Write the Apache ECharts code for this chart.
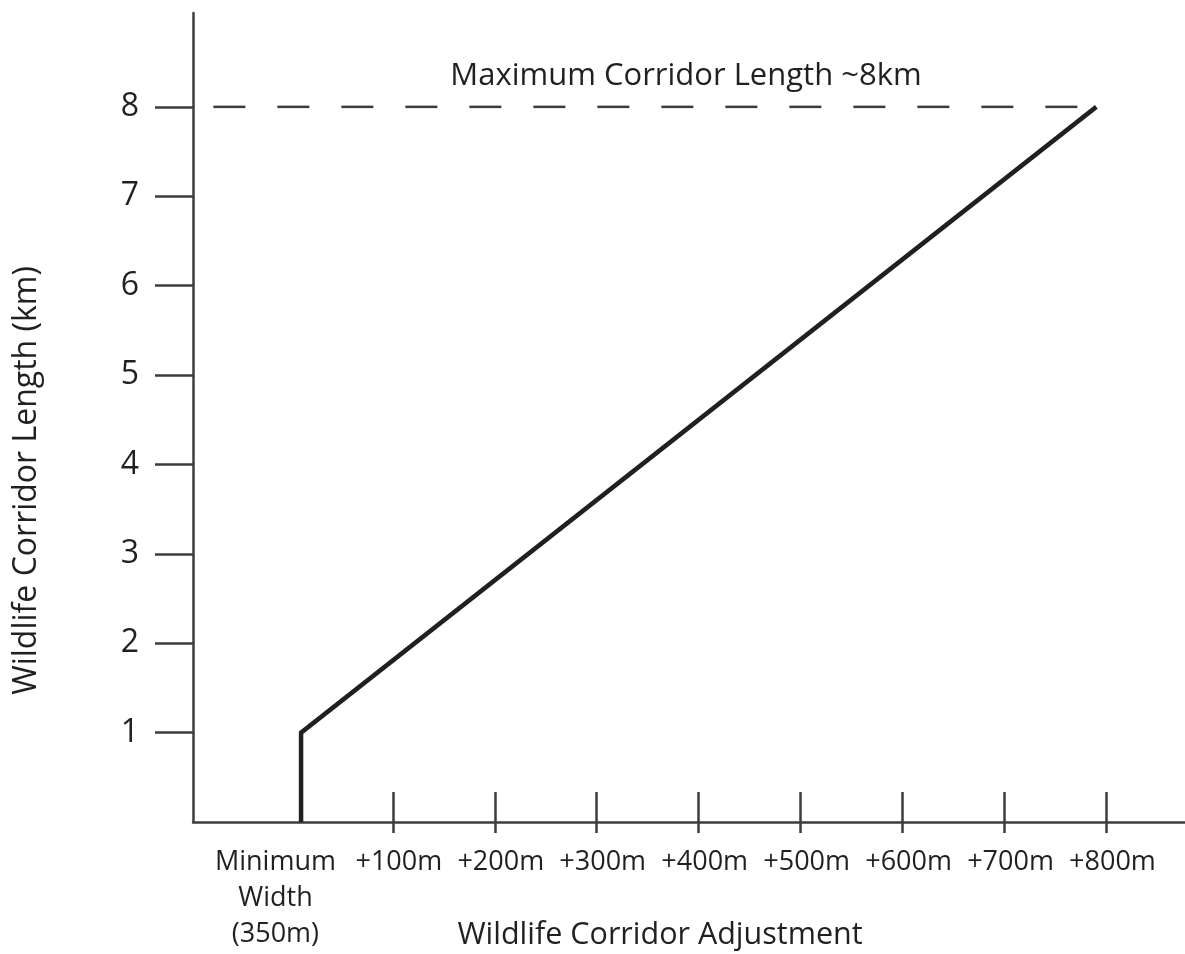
<!DOCTYPE html>
<html>
<head>
<meta charset="utf-8">
<script src="https://cdn.jsdelivr.net/npm/echarts@6/dist/echarts.min.js"></script>
<style>
html,body{margin:0;padding:0;background:#fff;}
#chart{width:1185px;height:954px;}
</style>
</head>
<body>
<div id="chart"></div>
<script>
// ---- data ----
var xTickValues = [100, 200, 300, 400, 500, 600, 700, 800];
var xTickLabels = ['+100m', '+200m', '+300m', '+400m', '+500m', '+600m', '+700m', '+800m'];
var minWidthValue = -21;
var minWidthLabel = 'Minimum\nWidth\n(350m)';
var yTickValues = [1, 2, 3, 4, 5, 6, 7, 8];
var corridorX = [10, 10, 790];
var corridorY = [0, 1, 8];
var maxLengthX = [-76, 790];
var maxLengthY = [8, 8];

var FONT = 'Open Sans';
var AX = '#3d3d3d';
var TXT = '#231f20';

var lineData = corridorX.map(function (x, i) { return [x, corridorY[i]]; });
var dashData = maxLengthX.map(function (x, i) { return [x, maxLengthY[i]]; });
var labelValues = [minWidthValue].concat(xTickValues);

var XMIN = -96, XMAX = 877;

var chart = echarts.init(document.getElementById('chart'), null, {renderer: 'canvas'});
chart.setOption({
  backgroundColor: '#ffffff',
  animation: false,
  title: {
    text: 'Maximum Corridor Length ~8km',
    left: 681, top: 56,
    textAlign: 'center',
    textStyle: {fontFamily: FONT, fontSize: 31, fontWeight: 'normal', color: TXT}
  },
  grid: {left: 193, right: 0, top: 13, bottom: 132, containLabel: false, outerBoundsMode: 'none'},
  xAxis: [{
    type: 'value', min: XMIN, max: XMAX,
    name: 'Wildlife Corridor Adjustment',
    nameLocation: 'middle', nameGap: 98, nameMoveOverlap: false,
    nameTextStyle: {fontFamily: FONT, fontSize: 30.5, color: TXT, padding: [0, 58, 0, 0]},
    axisLine: {show: true, onZero: false, lineStyle: {color: AX, width: 2.5}},
    axisTick: {show: true, inside: true, length: 30, customValues: xTickValues, lineStyle: {color: AX, width: 2.5}},
    axisLabel: {show: false},
    splitLine: {show: false}
  }, {
    type: 'value', min: XMIN, max: XMAX, position: 'bottom', offset: 0,
    axisLine: {show: false, onZero: false},
    axisTick: {show: true, inside: false, length: 11, customValues: xTickValues, lineStyle: {color: AX, width: 2.5}},
    axisLabel: {show: false},
    splitLine: {show: false}
  }, {
    type: 'value', min: XMIN, max: XMAX, position: 'bottom', offset: 0,
    axisLine: {show: false, onZero: false},
    axisTick: {show: false},
    axisLabel: {
      show: true, customValues: labelValues, margin: 22,
      showMinLabel: true, showMaxLabel: true, hideOverlap: false,
      fontFamily: FONT, fontSize: 27, color: TXT, lineHeight: 36,
      padding: [0, 0, 0, 12],
      formatter: function (v) {
        if (v === minWidthValue) return minWidthLabel;
        var i = xTickValues.indexOf(v);
        return i >= 0 ? xTickLabels[i] : '';
      }
    },
    splitLine: {show: false}
  }],
  yAxis: {
    type: 'value', min: 0, max: 9.05,
    name: 'Wildlife Corridor Length (km)',
    nameLocation: 'middle', nameGap: 150, nameRotate: 90, nameMoveOverlap: false,
    nameTextStyle: {fontFamily: FONT, fontSize: 32, color: TXT, padding: [0, 126, 0, 0]},
    axisLine: {show: true, onZero: false, lineStyle: {color: AX, width: 2.5}},
    axisTick: {show: true, inside: false, length: 38, customValues: yTickValues, lineStyle: {color: AX, width: 2.5}},
    axisLabel: {show: true, customValues: yTickValues, margin: 54, fontFamily: FONT, fontSize: 32, color: TXT},
    splitLine: {show: false}
  },
  series: [{
    type: 'line', data: dashData, symbol: 'none', silent: true,
    lineStyle: {color: AX, width: 2.5, type: [32, 32]}
  }, {
    type: 'line', data: lineData, symbol: 'none', silent: true,
    lineStyle: {color: TXT, width: 4.5, join: 'miter'}
  }]
});
</script>
</body>
</html>
